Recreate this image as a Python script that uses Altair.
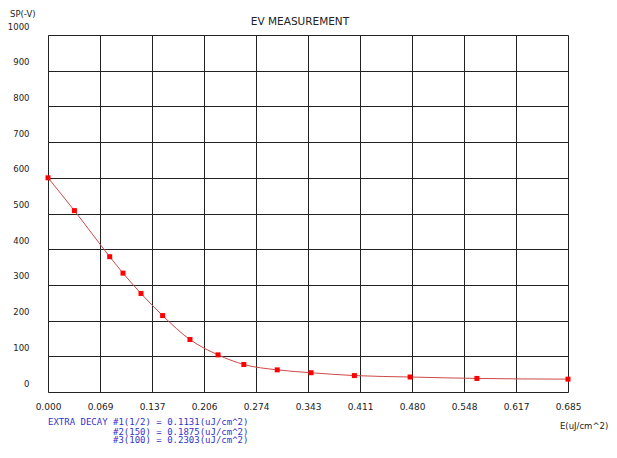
import altair as alt
import pandas as pd

# Data
energy = [0.000, 0.0348, 0.0813, 0.0988, 0.1225, 0.151, 0.187, 0.224, 0.258,
          0.302, 0.3465, 0.4036, 0.477, 0.565, 0.685]
potential = [600, 508, 379, 333, 276, 214, 147, 104, 77, 62, 54, 46, 42, 38, 36]

x_tick_values = [0.0, 0.0685, 0.137, 0.2055, 0.274, 0.3425, 0.411, 0.4795, 0.548, 0.6165, 0.685]
x_tick_labels = ["0.000", "0.069", "0.137", "0.206", "0.274", "0.343", "0.411",
                 "0.480", "0.548", "0.617", "0.685"]
y_tick_values = [0, 100, 200, 300, 400, 500, 600, 700, 800, 900, 1000]

title_text = "EV MEASUREMENT"
y_unit = "SP(-V)"
x_unit = "E(uJ/cm^2)"
decay_head = "EXTRA DECAY"
decay_lines = ["#1(1/2) = 0.1131(uJ/cm^2)", "#2(150) = 0.1875(uJ/cm^2)", "#3(100) = 0.2303(uJ/cm^2)"]

FONT = "DejaVu Sans"
MONO = "DejaVu Sans Mono"
W, H = 520, 357

df = pd.DataFrame({"E": energy, "SP": potential})

label_expr = "[" + ",".join("'%s'" % s for s in x_tick_labels) + "][round(datum.value/0.0685)]"

x_enc = alt.X("E:Q", scale=alt.Scale(domain=[0, 0.685], nice=False, zero=False),
              axis=alt.Axis(values=x_tick_values, labelExpr=label_expr, title=None,
                            grid=True, ticks=False, domain=False, labelPadding=10,
                            labelBaseline="top", labelFont=FONT, labelFontSize=9,
                            labelColor="#222222", gridColor="#222222", gridOpacity=1,
                            labelFlush=False, labelOverlap=False))
y_enc = alt.Y("SP:Q", scale=alt.Scale(domain=[0, 1000], nice=False),
              axis=alt.Axis(values=y_tick_values, format="d", title=None, grid=True, ticks=False,
                            domain=False, labelPadding=19, labelOffset=-9,
                            labelFont=FONT, labelFontSize=8.5, labelColor="#222222",
                            gridColor="#222222", gridOpacity=1, labelFlush=False,
                            labelOverlap=False))

line = alt.Chart(df).mark_line(interpolate="monotone", color="#d04848", strokeWidth=1).encode(x=x_enc, y=y_enc)
pts = alt.Chart(df).mark_square(color="#ff0000", size=25, opacity=1).encode(x=x_enc, y=y_enc)

def txt(s, x, y, font=FONT, **kw):
    d = pd.DataFrame({"t": [s]})
    return alt.Chart(d).mark_text(font=font, **kw).encode(text="t:N", x=alt.value(x), y=alt.value(y))

title = txt(title_text, 252, -13, fontSize=10.5, align="center", baseline="middle", color="#222222")
yunit = txt(y_unit, -38, -21, fontSize=8.5, align="left", baseline="middle", color="#222222")
xunit = txt(x_unit, 512, H + 34, fontSize=8.5, align="left", baseline="middle", color="#222222")
blue = "#3333cc"
head = txt(decay_head, 0, H + 30, font=MONO, fontSize=9, align="left", baseline="middle", color=blue)
l1 = txt(decay_lines[0], 65, H + 30, font=MONO, fontSize=9, align="left", baseline="middle", color=blue)
l2 = txt(decay_lines[1], 65, H + 39.5, font=MONO, fontSize=9, align="left", baseline="middle", color=blue)
l3 = txt(decay_lines[2], 65, H + 48, font=MONO, fontSize=9, align="left", baseline="middle", color=blue)

chart = alt.layer(line, pts, title, yunit, xunit, head, l1, l2, l3).properties(
    width=W, height=H,
    autosize=alt.AutoSizeParams(type="none"),
    padding={"left": 40, "top": 27, "right": 41, "bottom": 58},
).configure_view(stroke="#222222", strokeWidth=1).configure(background="white")

chart.save("out.html", embed_options={"renderer": "svg", "actions": False})
